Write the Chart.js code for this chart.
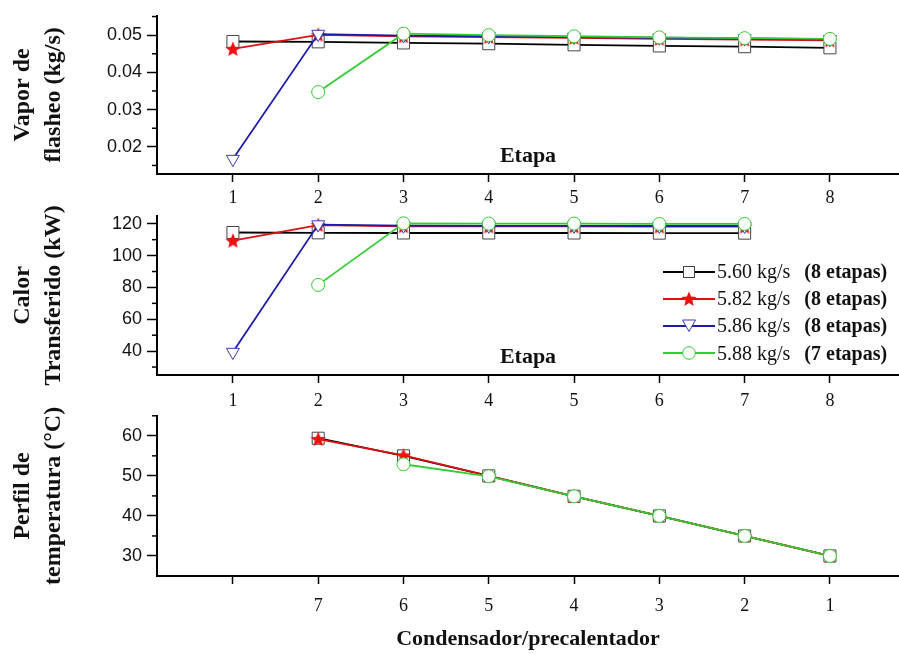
<!DOCTYPE html>
<html>
<head>
<meta charset="utf-8">
<script src="https://cdn.jsdelivr.net/npm/chart.js@4.4.1/dist/chart.umd.min.js"></script>
<style>
  html, body { margin: 0; padding: 0; background: #fff; }
  #wrap { position: relative; width: 899px; height: 654px; overflow: hidden; }
  #wrap canvas { position: absolute; left: 0; }
  #legend { position: absolute; left: 663px; top: 258px; font-family: 'Liberation Serif', 'Times New Roman', serif; font-size: 20px; color: #111; }
  .row { display: flex; align-items: center; height: 27.2px; white-space: nowrap; }
  .row svg { margin-right: 2px; }
  .row b { margin-left: 14px; }
</style>
</head>
<body>
<div id="wrap">
  <canvas id="c1" width="899" height="212" style="top:0px"></canvas>
  <canvas id="c2" width="899" height="212" style="top:200px"></canvas>
  <canvas id="c3" width="899" height="254" style="top:400px"></canvas>
  <div id="legend"></div>
</div>
<script>
// datos
const etapas = [1, 2, 3, 4, 5, 6, 7, 8];
const etapas7 = [1, 2, 3, 4, 5, 6, 7];
const condPos = [2, 3, 4, 5, 6, 7, 8];
const condLabels = ['', '7', '6', '5', '4', '3', '2', '1'];

const seriesNames = ['5.60 kg/s', '5.82 kg/s', '5.86 kg/s', '5.88 kg/s'];
const seriesStages = ['(8 etapas)', '(8 etapas)', '(8 etapas)', '(7 etapas)'];

// Vapor de flasheo (kg/s)
const vapor560 = [0.0483, 0.0482, 0.0479, 0.0477, 0.0474, 0.0471, 0.0469, 0.0466];
const vapor582 = [0.0463, 0.0501, 0.0497, 0.0495, 0.0493, 0.0490, 0.0488, 0.0486];
const vapor586 = [0.0167, 0.0503, 0.0499, 0.0497, 0.0495, 0.0493, 0.0491, 0.0489];
const vapor588 = [null, 0.0347, 0.0504, 0.0500, 0.0497, 0.0494, 0.0492, 0.0490];

// Calor transferido (kW)
const calor560 = [114.5, 114.3, 114.2, 114.2, 114.2, 114.1, 114.1];
const calor582 = [109.4, 119.2, 118.4, 118.3, 118.3, 118.2, 118.2];
const calor586 = [39.4, 119.5, 118.8, 118.7, 118.7, 118.6, 118.6];
const calor588 = [null, 81.6, 120.3, 120.1, 120.1, 119.9, 119.9];

// Perfil de temperatura (C), condensador 7 -> 1
const temp560 = [59.4, 55.0, 50.0, 44.9, 40.0, 35.0, 30.0];
const temp582 = [59.2, 55.1, 50.0, 44.9, 40.0, 35.0, 30.0];
const temp588 = [null, 52.9, 49.9, 44.9, 40.0, 35.0, 30.0];

const yTicks1 = [0.02, 0.03, 0.04, 0.05];
const yMinor1 = [0.015, 0.025, 0.035, 0.045, 0.055];
const yTicks2 = [40, 60, 80, 100, 120];
const yMinor2 = [30, 50, 70, 90, 110];
const yTicks3 = [30, 40, 50, 60];
const yMinor3 = [35, 45, 55, 65];

// estrella rellena para 5.82 kg/s
const starPts = (cx, cy, r) => {
  const pts = [];
  for (let i = 0; i < 10; i++) {
    const a = -Math.PI / 2 + i * Math.PI / 5;
    const rr = i % 2 ? r * 0.45 : r;
    pts.push([cx + rr * Math.cos(a), cy + rr * Math.sin(a)]);
  }
  return pts;
};
const starImg = (() => {
  const c = document.createElement('canvas');
  c.width = c.height = 16;
  const g = c.getContext('2d');
  g.beginPath();
  starPts(8, 8.6, 8).forEach(([x, y], i) => i ? g.lineTo(x, y) : g.moveTo(x, y));
  g.closePath();
  g.fillStyle = '#f01010';
  g.fill();
  return c;
})();

const styles = [
  { color: '#000000', point: 'rect', radius: 8.5, rot: 0, border: '#444444' },
  { color: '#dd1111', point: starImg, radius: 8, rot: 0, border: '#f01010' },
  { color: '#1c1ca8', point: 'triangle', radius: 7.5, rot: 180, border: '#3a3ac0' },
  { color: '#33cc33', point: 'circle', radius: 6.5, rot: 0, border: '#33cc33' }
];

const mk = (i, xs, ys) => ({
  label: seriesNames[i],
  data: xs.map((x, k) => ({ x, y: ys[k] })).filter(p => p.y != null),
  borderColor: styles[i].color,
  borderWidth: 1.8,
  pointStyle: styles[i].point,
  pointRadius: styles[i].radius,
  pointRotation: styles[i].rot,
  pointBorderColor: styles[i].border,
  pointBorderWidth: 1,
  pointBackgroundColor: '#ffffff',
  tension: 0,
  clip: false,
  order: 3 - i
});

// ticks menores del eje y
const minorTicks = {
  id: 'minorTicks',
  afterDraw(chart, args, opts) {
    const y = chart.scales.y, ctx = chart.ctx;
    ctx.save();
    ctx.strokeStyle = '#000';
    ctx.lineWidth = 1.5;
    (opts.values || []).forEach(v => {
      if (v < y.min || v > y.max) return;
      const py = y.getPixelForValue(v);
      ctx.beginPath();
      ctx.moveTo(y.right - 5, py);
      ctx.lineTo(y.right, py);
      ctx.stroke();
    });
    ctx.restore();
  }
};

const serif = "'Liberation Serif', 'Times New Roman', serif";
const sans = "'Liberation Sans', Arial, sans-serif";

const makeChart = (id, o) => new Chart(document.getElementById(id), {
  type: 'line',
  data: { datasets: o.datasets },
  plugins: [minorTicks],
  options: {
    responsive: false,
    animation: false,
    devicePixelRatio: 1,
    layout: { autoPadding: false, padding: { top: o.padTop, left: 0, right: 0, bottom: 0 } },
    plugins: {
      legend: { display: false },
      tooltip: { enabled: false },
      minorTicks: { values: o.minor }
    },
    scales: {
      x: {
        type: 'linear',
        min: 0.11, max: 8.81,
        afterBuildTicks: s => { s.ticks = etapas.map(v => ({ value: v })); },
        afterFit: s => { s.height = o.xHeight; },
        grid: { drawOnChartArea: false, drawTicks: true, tickLength: 8, tickWidth: 1.5, tickColor: '#000' },
        border: { display: true, color: '#000', width: 2 },
        ticks: { font: { family: serif, size: 18 }, color: '#111', padding: o.xTickPad, maxRotation: 0, callback: o.xLabel },
        title: { display: true, text: o.xTitle, color: '#111', font: { family: serif, size: 22, weight: 'bold' }, padding: { top: 0, bottom: o.xTitlePad } }
      },
      y: {
        min: o.yMin, max: o.yMax,
        afterBuildTicks: s => { s.ticks = o.yTicks.map(v => ({ value: v })); },
        afterFit: s => { s.width = 157; },
        grid: { drawOnChartArea: false, drawTicks: true, tickLength: 10, tickWidth: 1.5, tickColor: '#000' },
        border: { display: true, color: '#000', width: 2 },
        ticks: { font: { family: sans, size: 18 }, color: '#111', padding: 5, callback: o.yLabel },
        title: { display: true, text: o.yTitle, color: '#111', font: { family: serif, size: 24, weight: 'bold', lineHeight: 1.3 }, padding: { top: 7, bottom: 0 } }
      }
    }
  }
});

makeChart('c1', {
  datasets: [mk(0, etapas, vapor560), mk(1, etapas, vapor582), mk(2, etapas, vapor586), mk(3, etapas, vapor588)],
  padTop: 10, xHeight: 38, xTitle: 'Etapa', xTitlePad: 42, xTickPad: 5,
  xLabel: v => String(v),
  yMin: 0.0127, yMax: 0.0552, yTicks: yTicks1, minor: yMinor1,
  yLabel: v => v.toFixed(2),
  yTitle: ['Vapor de', 'flasheo (kg/s)']
});

makeChart('c2', {
  datasets: [mk(0, etapas7, calor560), mk(1, etapas7, calor582), mk(2, etapas7, calor586), mk(3, etapas7, calor588)],
  padTop: 12, xHeight: 37, xTitle: 'Etapa', xTitlePad: 41, xTickPad: 7,
  xLabel: v => String(v),
  yMin: 25, yMax: 125, yTicks: yTicks2, minor: yMinor2,
  yLabel: v => String(v),
  yTitle: ['Calor', 'Transferido (kW)']
});

makeChart('c3', {
  datasets: [mk(0, condPos, temp560), mk(1, condPos, temp582), mk(3, condPos, temp588)],
  padTop: 12, xHeight: 78, xTitle: 'Condensador/precalentador', xTitlePad: 1, xTickPad: 11,
  xLabel: v => condLabels[v - 1],
  yMin: 25, yMax: 65, yTicks: yTicks3, minor: yMinor3,
  yLabel: v => String(v),
  yTitle: ['Perfil de', 'temperatura (\u00B0C)']
});

// leyenda
const markerSvg = i => {
  const st = styles[i];
  let m = '';
  if (i === 0) m = `<rect x="20.5" y="4.5" width="11" height="11" fill="#fff" stroke="${st.border}" stroke-width="1"/>`;
  if (i === 1) m = `<polygon points="${starPts(26, 10.5, 8).map(p => p.join(',')).join(' ')}" fill="#f01010"/>`;
  if (i === 2) m = `<polygon points="19.5,4 32.5,4 26,15.5" fill="#fff" stroke="${st.border}" stroke-width="1"/>`;
  if (i === 3) m = `<circle cx="26" cy="10" r="6.3" fill="#fff" stroke="${st.border}" stroke-width="1"/>`;
  return `<svg width="52" height="20"><line x1="0" y1="10" x2="52" y2="10" stroke="${st.color}" stroke-width="2"/>${m}</svg>`;
};
document.getElementById('legend').innerHTML = seriesNames.map((n, i) =>
  `<div class="row">${markerSvg(i)}<span>${n}</span><b>${seriesStages[i]}</b></div>`).join('');
</script>
</body>
</html>
